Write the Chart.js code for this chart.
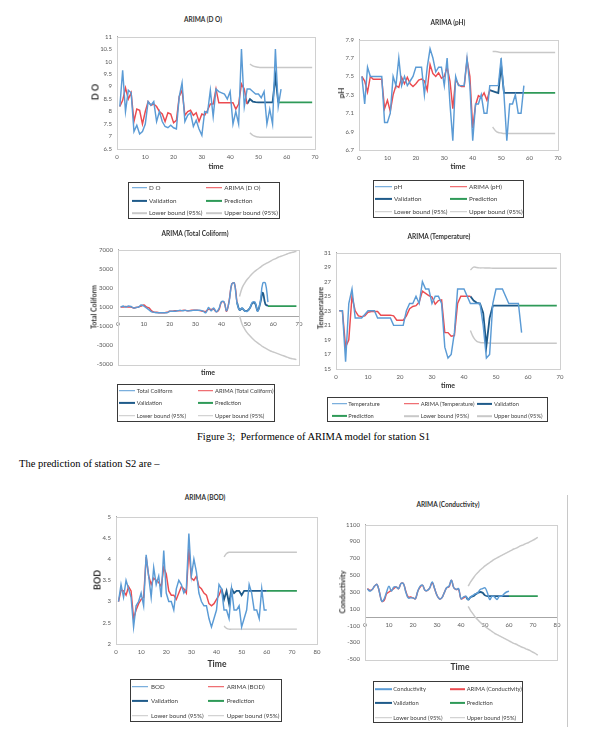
<!DOCTYPE html>
<html><head><meta charset="utf-8">
<script src="https://cdn.jsdelivr.net/npm/chart.js@4"></script>
<style>
body{margin:0;background:#fff;}
#page{position:relative;width:612px;height:737px;overflow:hidden;font-family:Lato,"Open Sans",sans-serif;color:#404040;}
.t{position:absolute;white-space:nowrap;transform:translate(-50%,-50%);line-height:1;}
.ttl{font-weight:bold;font-size:6.5px;color:#333}
.ax{font-weight:bold;font-size:8px;color:#333}
.rot{transform:translate(-50%,-50%) rotate(-90deg);}
.leg{position:absolute;border:1.5px solid #3a3a3a;box-sizing:border-box;background:#fff}
.li{position:absolute;font-size:6.3px;white-space:nowrap;line-height:1;transform:translateY(-50%);color:#404040}
.mk{position:absolute;height:1.6px;transform:translateY(-50%)}
canvas{position:absolute;}
.cap{position:absolute;font-family:"Liberation Serif","Times New Roman",serif;font-size:10.5px;color:#000;white-space:nowrap;transform:translateY(-50%);line-height:1}
</style></head>
<body><div id="page">
<div class="cap" style="left:197px;top:437px">Figure 3;&nbsp; Performence of ARIMA model for station S1</div>
<div class="cap" style="left:19px;top:464px">The prediction of station S2 are –</div>
<div style="position:absolute;left:567px;top:495px;width:1px;height:232px;background:#c8c8c8"></div>
</div>
<script>
// ---------------- DATA ----------------
// Chart 1: D O
const doObs   = [8.2,9.65,8.0,8.85,8.75,7.2,7.45,7.1,7.2,7.5,8.4,8.25,8.4,7.6,8.0,7.6,7.4,7.35,7.45,7.35,7.3,8.6,9.15,7.6,7.85,7.95,7.4,7.65,7.3,7.05,8.0,7.95,8.85,7.8,8.9,8.8,8.75,8.7,8.5,8.8,7.5,8.0,7.5,10.5,8.2,8.9,8.9,8.8,8.7,8.7,8.55,8.8,7.5,8.1,7.5,10.5,8.2,8.9];
const doArima = [8.2,8.45,8.95,8.5,8.75,7.6,8.1,8.05,7.5,8.0,8.4,8.25,8.3,8.2,8.0,7.9,7.6,7.95,7.9,7.55,7.65,8.6,8.85,7.85,8.0,8.05,7.85,7.95,7.6,7.9,7.85,8.05,8.3,8.3,8.9,8.35,8.35,8.35,8.35,8.35,8.35,8.1,8.3,9.1,8.9,8.3];
const doValid = [8.3,8.5,8.4,8.38,8.37,8.37,8.37,8.37,8.37,8.37,9.4,8.37];
const doPred  = [8.37,8.37,8.37,8.37,8.37,8.37,8.37,8.37,8.37,8.37,8.37,8.37,8.37];
const doLower = [7.15,7.05,7.0,6.98,6.97,6.97,6.97,6.97,6.97,6.97,6.97,6.97,6.97,6.97,6.97,6.97,6.97,6.97,6.97,6.97,6.97,6.97,6.97];
const doUpper = [9.9,9.83,9.79,9.77,9.76,9.76,9.76,9.76,9.76,9.76,9.76,9.76,9.76,9.76,9.76,9.76,9.76,9.76,9.76,9.76,9.76,9.76,9.76];
const doYTicks = [6.5,7,7.5,8,8.5,9,9.5,10,10.5,11];

// Chart 2: pH
const phObs   = [7.5,7.2,7.6,7.5,7.5,7.5,7.5,7.5,7.0,7.0,7.1,7.5,7.4,7.7,7.4,7.5,7.4,7.45,7.5,7.6,7.6,7.6,7.3,7.6,7.8,7.7,7.55,7.6,7.6,7.4,7.7,7.2,6.8,7.5,7.4,7.4,7.4,7.7,7.4,6.8,7.2,7.2,7.3,7.1,7.1,7.4,7.4,7.4,7.4,7.7,7.3,6.8,7.2,7.2,7.3,7.1,7.1,7.4];
const phArima = [7.5,7.45,7.33,7.5,7.47,7.47,7.47,7.47,7.15,7.24,7.12,7.3,7.4,7.38,7.49,7.42,7.49,7.42,7.39,7.42,7.46,7.47,7.45,7.35,7.63,7.53,7.5,7.54,7.48,7.5,7.6,7.45,7.15,7.47,7.41,7.39,7.39,7.68,7.5,6.94,7.19,7.29,7.27,7.32,7.24,7.35];
const phValid = [7.35,7.34,7.33,7.32,7.62,7.32,7.32,7.32,7.32,7.32,7.32,7.32,7.32];
const phPred  = [7.32,7.32,7.32,7.32,7.32,7.32,7.32,7.32,7.32,7.32,7.32,7.32];
const phLower = [6.95,6.91,6.89,6.885,6.88,6.88,6.88,6.88,6.88,6.88,6.88,6.88,6.88,6.88,6.88,6.88,6.88,6.88,6.88,6.88,6.88,6.88,6.88];
const phUpper = [7.77,7.77,7.765,7.76,7.76,7.76,7.76,7.76,7.76,7.76,7.76,7.76,7.76,7.76,7.76,7.76,7.76,7.76,7.76,7.76,7.76,7.76,7.76];
const phYTicks = [6.7,6.9,7.1,7.3,7.5,7.7,7.9];

// Chart 3: Total Coliform
const tcObs   = [1000,1100,1000,1100,1050,900,950,1000,1200,1100,900,700,500,450,400,400,400,400,400,550,550,550,600,650,600,650,600,600,650,650,650,650,550,400,950,600,900,500,800,1550,1550,600,1600,3400,3500,1500,700,900,600,550,900,1500,1500,550,1500,3500,3500,1500];
const tcArima = [1000,1000,1050,1000,1000,900,950,1000,1100,1200,1000,900,600,450,450,400,400,400,450,550,550,600,600,600,650,650,600,650,650,650,650,600,550,550,750,750,750,500,700,1500,1500,550,1700,3400,3500,1500];
const tcValid = [1500,700,850,600,600,900,1400,1400,600,1400,2500,1300,1100];
const tcPred  = [1100,1100,1100,1100,1100,1100,1100,1100,1100,1100,1100,1100];
const tcLower = [100,-800,-1300,-1700,-2000,-2300,-2550,-2750,-2950,-3150,-3300,-3450,-3600,-3700,-3800,-3900,-4000,-4100,-4200,-4300,-4380,-4440,-4500];
const tcUpper = [2100,3000,3500,3900,4200,4500,4750,4950,5150,5350,5500,5650,5800,5950,6050,6200,6300,6400,6500,6600,6680,6750,6830];
const tcYTicks = [-5000,-3000,-1000,1000,3000,5000,7000];

// Chart 4: Temperature
const tObs   = [23,23,16,24,26,22,22,22,22.5,23,23,23,22,22,22,22,22,21,21,21,21,23,24,24,25,24,27,26,26,24,25,25,24,18,16.5,17,20,26,26,26,25,24,24,24,24,21,16.5,17,24,26,26,26,25,24,24,24,24,20];
const tArima = [23,23,18,19,25,23,22.3,22.2,22.3,22.8,22.9,22.9,22.9,22.4,22.4,22.4,22.4,22.3,21.7,21.7,21.7,22.3,23.3,23.6,23.7,24.2,25.7,25.4,25.1,24.9,23.9,24.4,24.5,20.0,20.0,19.5,19.6,24.0,25.0,25.0,25.0,25.0];
const tValid = [25,24.4,24.1,24,22.7,18.2,22,23.7,23.7,23.7,23.7,23.7,23.7,23.7,23.7,23.7];
const tPred  = [23.7,23.7,23.7,23.7,23.7,23.7,23.7,23.7,23.7,23.7,23.7,23.7,23.7];
const tLower = [20.3,19.3,18.8,18.65,18.6,18.57,18.56,18.55,18.55,18.55,18.55,18.55,18.55,18.55,18.55,18.55,18.55,18.55,18.55,18.55,18.55,18.55,18.55,18.55,18.55,18.55,18.55,18.55];
const tUpper = [28.6,29.0,28.95,28.9,28.9,28.88,28.87,28.86,28.85,28.85,28.85,28.85,28.85,28.85,28.85,28.85,28.85,28.85,28.85,28.85,28.85,28.85,28.85,28.85,28.85,28.85,28.85,28.85];
const tYTicks = [15,17,19,21,23,25,27,29,31];

// Chart 5: BOD
const bObs   = [3.0,3.4,3.1,3.5,3.3,3.1,2.4,2.9,3.0,3.2,2.9,4.1,3.6,3.1,3.8,3.4,3.6,3.1,4.2,3.2,3.0,3.0,2.8,3.3,3.5,3.4,3.2,3.3,4.6,3.6,4.0,3.7,3.2,3.0,2.9,2.9,2.6,2.4,2.6,2.8,3.4,3.3,2.8,2.8,2.6,3.3,2.8,2.8,2.9,2.4,2.6,2.8,3.4,3.2,2.8,2.8,2.6,3.3,2.8,2.8];
const bArima = [3.0,3.27,3.25,3.15,3.35,3.25,2.6,2.8,2.95,3.05,3.1,4.05,3.6,3.4,3.55,3.5,3.45,3.35,3.8,3.65,3.25,3.15,3.15,3.05,3.2,3.35,3.3,3.2,4.25,3.55,3.5,3.6,3.35,3.3,3.2,3.15,2.95,2.9,2.95,3.05,3.15,3.3];
const bValid = [3.3,3.05,3.25,2.95,3.3,3.2,3.25,3.25,3.15,3.25,3.25,3.25,3.25,3.25,3.25,3.25,3.25,3.25,3.25];
const bPred  = [3.25,3.25,3.25,3.25,3.25,3.25,3.25,3.25,3.25,3.25,3.25,3.25,3.25];
const bLower = [2.42,2.37,2.35,2.35,2.35,2.35,2.35,2.35,2.35,2.35,2.35,2.35,2.35,2.35,2.35,2.35,2.35,2.35,2.35,2.35,2.35,2.35,2.35,2.35,2.35,2.35,2.35,2.35,2.35,2.35];
const bUpper = [4.05,4.13,4.16,4.16,4.16,4.16,4.16,4.16,4.16,4.16,4.16,4.16,4.16,4.16,4.16,4.16,4.16,4.16,4.16,4.16,4.16,4.16,4.16,4.16,4.16,4.16,4.16,4.16,4.16,4.16];
const bYTicks = [2,2.5,3,3.5,4,4.5,5];

// Chart 6: Conductivity
const cObs   = [340,310,330,370,390,300,190,220,300,370,310,360,360,340,400,400,300,230,230,230,220,310,370,380,320,320,350,420,340,260,220,230,290,350,370,440,350,330,340,220,240,250,210,240,260,280,290,330,340,350,290,210,250,240,210,250,250,280,300,310];
const cArima = [340,320,330,370,390,300,190,200,280,300,320,340,360,340,400,400,310,240,240,230,220,310,360,380,320,320,350,410,340,260,220,230,290,350,360,440,350,330,330,220,230,250];
const cValid = [250,210,240,250,270,290,300,290,260,250,250,250,250,250,250,250,250,250,250];
const cPred  = [250,250,250,250,250,250,250,250,250,250,250,250,250];
const cLower = [130,80,40,0,-30,-60,-85,-110,-130,-150,-170,-190,-205,-220,-235,-250,-265,-280,-295,-310,-320,-335,-350,-360,-375,-385,-400,-415,-430,-450];
const cUpper = [370,420,460,500,530,560,585,610,630,650,670,690,705,720,735,750,765,780,795,810,820,835,850,860,875,885,900,915,930,950];
const cYTicks = [-500,-300,-100,100,300,500,700,900,1100];

const xTicks70 = [0,10,20,30,40,50,60,70];
const xTicks80 = [0,10,20,30,40,50,60,70,80];

// ---------------- RENDERING ----------------
const COL = {obs:'#5b9bd5', arima:'#eb4b50', valid:'#1f5b8a', pred:'#2f9a58', bound:'#c8c8c8'};
Chart.defaults.font.family = 'Lato, "Open Sans", sans-serif';
const page = document.getElementById('page');

function pts(start, arr){ return arr.map((v,i)=>({x:start+i, y:v})); }

const frame = {id:'frame', beforeDatasetsDraw(c){
  const a=c.chartArea, x=c.ctx; x.save(); x.strokeStyle='#d0d0d0'; x.lineWidth=1;
  x.strokeRect(Math.round(a.left)+0.5, Math.round(a.top)+0.5, Math.round(a.right-a.left), Math.round(a.bottom-a.top));
  x.restore();
}};

function el(cls, text, style){ const d=document.createElement('div'); d.className=cls; d.textContent=text; Object.assign(d.style, style); page.appendChild(d); return d; }

function build(cfg){
  const {l,t,r,b} = cfg.rect;
  const padL=38, padT=6, padR=8, padB = cfg.zeroAxis ? 6 : 15;
  const W = r-l+padL+padR, H = b-t+padT+padB;
  const cv = document.createElement('canvas');
  cv.width=W; cv.height=H;
  cv.style.left=(l-padL)+'px'; cv.style.top=(t-padT)+'px';
  cv.style.width=W+'px'; cv.style.height=H+'px';
  page.appendChild(cv);
  const ds = cfg.series.map(s=>({data:pts(s.start,s.values), borderColor:s.color, backgroundColor:s.color,
      borderWidth:s.w||1.45, pointRadius:0, showLine:true, fill:false, tension:s.smooth?0.4:0}));
  const yT = cfg.yTicks, xT = cfg.xTicks;
  new Chart(cv, {type:'scatter', data:{datasets:ds}, plugins:[frame], options:{
    responsive:false, animation:false,
    layout:{padding:{left:0, top:padT, right:padR, bottom:0}},
    plugins:{legend:{display:false}, tooltip:{enabled:false}},
    scales:{
      x:{type:'linear', min:xT[0], max:xT[xT.length-1], position: cfg.zeroAxis?{y:0}:'bottom',
         afterBuildTicks:s=>{s.ticks=xT.map(v=>({value:v}));},
         afterFit:s=>{s.height=padB;},
         ticks:{font:{size:6}, color:'#595959', padding:4, maxRotation:0, autoSkip:false},
         grid:{display:false, drawTicks:false}, border:{color:'#a6a6a6', width:1}},
      y:{type:'linear', min:yT[0], max:yT[yT.length-1],
         afterBuildTicks:s=>{s.ticks=yT.map(v=>({value:v}));},
         afterFit:s=>{s.width=padL;},
         ticks:{font:{size:6}, color:'#595959', padding:5, autoSkip:false, callback:v=>String(Math.round(v*100)/100)},
         grid:{display:false, drawTicks:false}, border:{color:'#a6a6a6', width:1}}
    }}});
  // texts
  el('t ttl', cfg.title, {left:cfg.titlePos[0]+'px', top:cfg.titlePos[1]+'px'});
  el('t ax rot', cfg.yTitle, {left:cfg.yTitlePos[0]+'px', top:cfg.yTitlePos[1]+'px', fontSize:(cfg.yTitleSize||8)+'px'});
  el('t ax', cfg.xTitle, {left:cfg.xTitlePos[0]+'px', top:cfg.xTitlePos[1]+'px', fontSize:(cfg.xTitleSize||7.5)+'px'});
  // legend
  const L = cfg.legend;
  const box = document.createElement('div'); box.className='leg';
  Object.assign(box.style,{left:L.box[0]+'px', top:L.box[1]+'px', width:(L.box[2]-L.box[0])+'px', height:(L.box[3]-L.box[1])+'px'});
  page.appendChild(box);
  cfg.series.forEach((s,i)=>{
    const ci = i % L.cols.length, ri = Math.floor(i / L.cols.length);
    const c = L.cols[ci], y = L.rows[ri];
    const m = document.createElement('div'); m.className='mk';
    Object.assign(m.style,{left:c[0]+'px', top:y+'px', width:c[1]+'px', background:s.color, height:(s.w>1.5?2.2:1.6)+'px'});
    page.appendChild(m);
    const tx = document.createElement('div'); tx.className='li'; tx.textContent=s.name;
    Object.assign(tx.style,{left:c[2]+'px', top:y+'px', fontSize:(L.font||6.3)+'px'});
    page.appendChild(tx);
  });
}

function seriesSet(name, obs, arima, valid, pred, lower, upper, st, smooth){
  return [
    {name:name, values:obs, start:1, color:COL.obs, smooth:smooth},
    {name:'ARIMA ('+name+')', values:arima, start:1, color:COL.arima, smooth:smooth},
    {name:'Validation', values:valid, start:st[0], color:COL.valid, w:1.8, smooth:smooth},
    {name:'Prediction', values:pred, start:st[1], color:COL.pred, w:1.8},
    {name:'Lower bound (95%)', values:lower, start:st[2], color:COL.bound, smooth:true},
    {name:'Upper bound (95%)', values:upper, start:st[2], color:COL.bound, smooth:true}
  ];
}

build({rect:{l:117,t:34,r:315,b:149}, xTicks:xTicks70, yTicks:doYTicks,
  series:seriesSet('D O', doObs, doArima, doValid, doPred, doLower, doUpper, [46,57,47]),
  title:'ARIMA (D O)', titlePos:[203,20], yTitle:'D O', yTitlePos:[95,92], yTitleSize:9, xTitle:'time', xTitlePos:[216,167],
  legend:{font:6.3, box:[128,182,280,219], rows:[187.5,200.5,213], cols:[[131.7,15,149],[206,15.7,224.3]]}});

build({rect:{l:359,t:37,r:558,b:150}, xTicks:xTicks70, yTicks:phYTicks,
  series:seriesSet('pH', phObs, phArima, phValid, phPred, phLower, phUpper, [46,58,47]),
  title:'ARIMA (pH)', titlePos:[448,23], yTitle:'pH', yTitlePos:[341,93], yTitleSize:8, xTitle:'time', xTitlePos:[458,167],
  legend:{font:6.3, box:[373,180,524,218], rows:[186.7,199.3,211.7], cols:[[375,16.7,394],[450,16.7,469]]}});

build({rect:{l:118,t:247,r:299,b:367}, xTicks:xTicks70, yTicks:tcYTicks, zeroAxis:true,
  series:seriesSet('Total Coliform', tcObs, tcArima, tcValid, tcPred, tcLower, tcUpper, [46,58,47], true),
  title:'ARIMA (Total Coliform)', titlePos:[195,234], yTitle:'Total Coliform', yTitlePos:[94,307], yTitleSize:7, xTitle:'time', xTitlePos:[208,372], xTitleSize:7,
  legend:{font:5.8, box:[116.7,384,275,421.7], rows:[390.7,403.3,415.7], cols:[[119.3,15.7,136.7],[198.3,15,215]]}});

build({rect:{l:336,t:250,r:560,b:369}, xTicks:xTicks70, yTicks:tYTicks,
  series:seriesSet('Temperature', tObs, tArima, tValid, tPred, tLower, tUpper, [42,57,42]),
  title:'ARIMA (Temperature)', titlePos:[439,237], yTitle:'Temperature', yTitlePos:[321,308], yTitleSize:7.5, xTitle:'time', xTitlePos:[448,385], xTitleSize:7,
  legend:{font:5.7, box:[326.7,397,548.3,421.7], rows:[403.7,416], cols:[[331.7,15,348.3],[404,15.3,420.7],[477,15,494]]}});

build({rect:{l:116,t:514,r:317,b:644}, xTicks:xTicks80, yTicks:bYTicks,
  series:seriesSet('BOD', bObs, bArima, bValid, bPred, bLower, bUpper, [42,60,43]),
  title:'ARIMA (BOD)', titlePos:[205,498], yTitle:'BOD', yTitlePos:[97,580], yTitleSize:9, xTitle:'Time', xTitlePos:[217,664], xTitleSize:8.5,
  legend:{font:6.2, box:[130,679,281.7,721.7], rows:[686.7,701,715.7], cols:[[131.7,16.7,151],[208.3,15.7,226.7]]}});

build({rect:{l:365,t:522,r:557,b:662}, xTicks:xTicks80, yTicks:cYTicks, zeroAxis:true,
  series:seriesSet('Conductivity', cObs, cArima, cValid, cPred, cLower, cUpper, [42,60,43], true),
  title:'ARIMA (Conductivity)', titlePos:[448,505], yTitle:'Conductivity', yTitlePos:[343,592], yTitleSize:7.5, xTitle:'Time', xTitlePos:[460,667], xTitleSize:8.5,
  legend:{font:5.8, box:[373,681,522.7,723], rows:[689.3,703,717.7], cols:[[375,16.7,393.3],[450,15,466.7]]}});
</script>
</body></html>
